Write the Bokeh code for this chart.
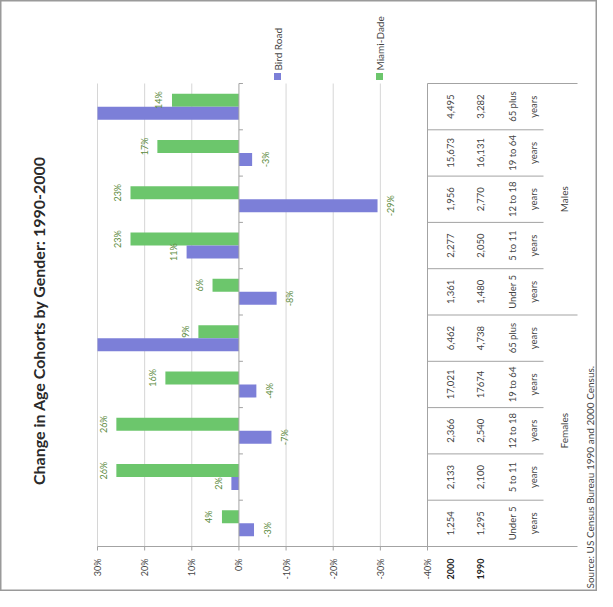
import math
import numpy as np
from bokeh.plotting import figure
from bokeh.models import ColumnDataSource, Range1d
from bokeh.core.properties import value
from bokeh.embed import file_html
from bokeh.resources import INLINE

# ---------------- data ----------------
chart_title = "Change in Age Cohorts by Gender: 1990-2000"
series = ["Bird Road", "Miami-Dade"]
genders = ["Females", "Males"]
cohorts = ["Under 5 years", "5 to 11 years", "12 to 18 years", "19 to 64 years", "65 plus years"]
bird_road = [-3.2, 1.6, -6.9, -3.7, 36.4, -8.0, 11.1, -29.4, -2.8, 37.0]
miami_dade = [3.6, 26.0, 26.0, 15.6, 8.6, 5.6, 23.0, 23.0, 17.3, 14.2]
row_labels = ["2000", "1990"]
pop_2000 = ["1,254", "2,133", "2,366", "17,021", "6,462", "1,361", "2,277", "1,956", "15,673", "4,495"]
pop_1990 = ["1,295", "2,100", "2,540", "17674", "4,738", "1,480", "2,050", "2,770", "16,131", "3,282"]
x_ticks = [30, 20, 10, 0, -10, -20, -30, -40]
source_note = "Source: US Census Bureau 1990 and 2000 Census."

# ---------------- layout / style ----------------
W, H = 597, 591
PX_LEFT, PX_RIGHT = 97, 427     # canvas x of first / last tick
PY_TOP, PY_BOT = 83, 546        # canvas y of top / bottom category edge
BLUE = "#7c7fd8"
GREEN = "#6cc66c"
LABEL_GREEN = "#5b8a3c"
AXIS = "#a3a3a3"
GRID = "#d6d6d6"
TXT = "#444444"
FONT = value("Lato")

XMAX, XMIN = x_ticks[0], x_ticks[-1]
n = len(bird_road)
sx = (PX_RIGHT - PX_LEFT) / (XMAX - XMIN)
sy = (PY_BOT - PY_TOP) / n


def X(px):
    return XMAX - (px - PX_LEFT) / sx


def Y(py):
    return (PY_BOT - py) / sy


p = figure(width=W, height=H, x_range=Range1d(X(0), X(W)), y_range=Range1d(Y(H), Y(0)),
           output_backend="svg", toolbar_location=None, min_border=0,
           x_axis_location=None, y_axis_location=None)
p.title.visible = False
p.grid.visible = False
p.outline_line_color = "#9a9a9a"
p.outline_line_width = 2
p.background_fill_color = "white"

# gridlines
for t in x_ticks:
    if t == 0:
        continue
    p.segment(x0=t, y0=0, x1=t, y1=n, line_color=GRID if t != XMIN else AXIS, line_width=1)

# bars
centers = np.arange(n) + 0.5
bar_h = 13 / sy
src_g = ColumnDataSource(dict(y=centers + bar_h / 2, right=np.clip(miami_dade, XMIN, XMAX)))
src_b = ColumnDataSource(dict(y=centers - bar_h / 2, right=np.clip(bird_road, XMIN, XMAX)))
p.hbar(y="y", left=0, right="right", height=bar_h, fill_color=GREEN, line_color=None, source=src_g)
p.hbar(y="y", left=0, right="right", height=bar_h, fill_color=BLUE, line_color=None, source=src_b)

# data labels
off = 13 / sx
lx, ly, lt = [], [], []
for vals, yc in ((miami_dade, centers + bar_h / 2), (bird_road, centers - bar_h / 2)):
    for v, yy in zip(vals, yc):
        if v > XMAX or v < XMIN:
            continue
        lx.append(v + off if v >= 0 else v - off)
        ly.append(yy)
        lt.append(f"{v:.0f}%")
p.text(x=lx, y=ly, text=lt, angle=math.pi / 2, text_align="center", text_baseline="middle",
       text_font=FONT, text_font_size=value("9px"), text_color=LABEL_GREEN)

# category axis at 0
p.segment(x0=0, y0=0, x1=0, y1=n, line_color=AXIS, line_width=1)
ks = list(range(n + 1))
p.segment(x0=[0] * len(ks), y0=ks, x1=[-4 / sx] * len(ks), y1=ks, line_color=AXIS)

# value axis ticks + labels
p.segment(x0=x_ticks, y0=[0] * len(x_ticks), x1=x_ticks, y1=[-4 / sy] * len(x_ticks), line_color=AXIS)
p.text(x=x_ticks, y=[Y(558)] * len(x_ticks), text=[f"{t}%" for t in x_ticks], angle=math.pi / 2,
       text_align="right", text_baseline="middle", text_font=FONT, text_font_size=value("9px"),
       text_color=TXT)

# table lines
outer = X(577)
inner = X(543)
half = n // 2
for k in ks:
    end = outer if k in (0, half, n) else inner
    p.segment(x0=XMAX if k == 0 else XMIN, y0=k, x1=end, y1=k, line_color=AXIS)

# table row headers
p.text(x=[X(450), X(480)], y=[Y(558)] * 2, text=row_labels, angle=math.pi / 2,
       text_align="right", text_baseline="middle", text_font=FONT, text_font_size=value("9px"),
       text_font_style="bold", text_color="#222222")

# table contents
cats = cohorts * len(genders)
line1 = [c.rsplit(" ", 1)[0] for c in cats]
line2 = [c.rsplit(" ", 1)[1] for c in cats]
for col_px, texts in ((450, pop_2000), (480, pop_1990), (512, line1), (533, line2)):
    p.text(x=[X(col_px)] * n, y=centers, text=texts, angle=math.pi / 2, text_align="center",
           text_baseline="middle", text_font=FONT, text_font_size=value("9.5px"), text_color=TXT)
p.text(x=[X(563)] * len(genders), y=[half / 2, half + half / 2], text=genders, angle=math.pi / 2,
       text_align="center", text_baseline="middle", text_font=FONT, text_font_size=value("10px"),
       text_color=TXT)

# source
p.text(x=[X(589)], y=[Y(588)], text=[source_note], angle=math.pi / 2, text_align="left",
       text_baseline="middle", text_font=FONT, text_font_size=value("10px"), text_color=TXT)

# legend
p.scatter(x=[X(277), X(379)], y=[Y(76), Y(76)], marker="square", size=7,
          fill_color=[BLUE, GREEN], line_color=None)
p.text(x=[X(277), X(379)], y=[Y(70), Y(70)], text=series, angle=math.pi / 2, text_align="left",
       text_baseline="middle", text_font=FONT, text_font_size=value("10px"), text_color=TXT)

# title
p.text(x=[X(38)], y=[Y(320)], text=[chart_title], angle=math.pi / 2, text_align="center",
       text_baseline="middle", text_font=FONT, text_font_size=value("16px"), text_font_style="bold",
       text_color="#2a2a2a")

open("out.html", "w").write(file_html(p, INLINE))
